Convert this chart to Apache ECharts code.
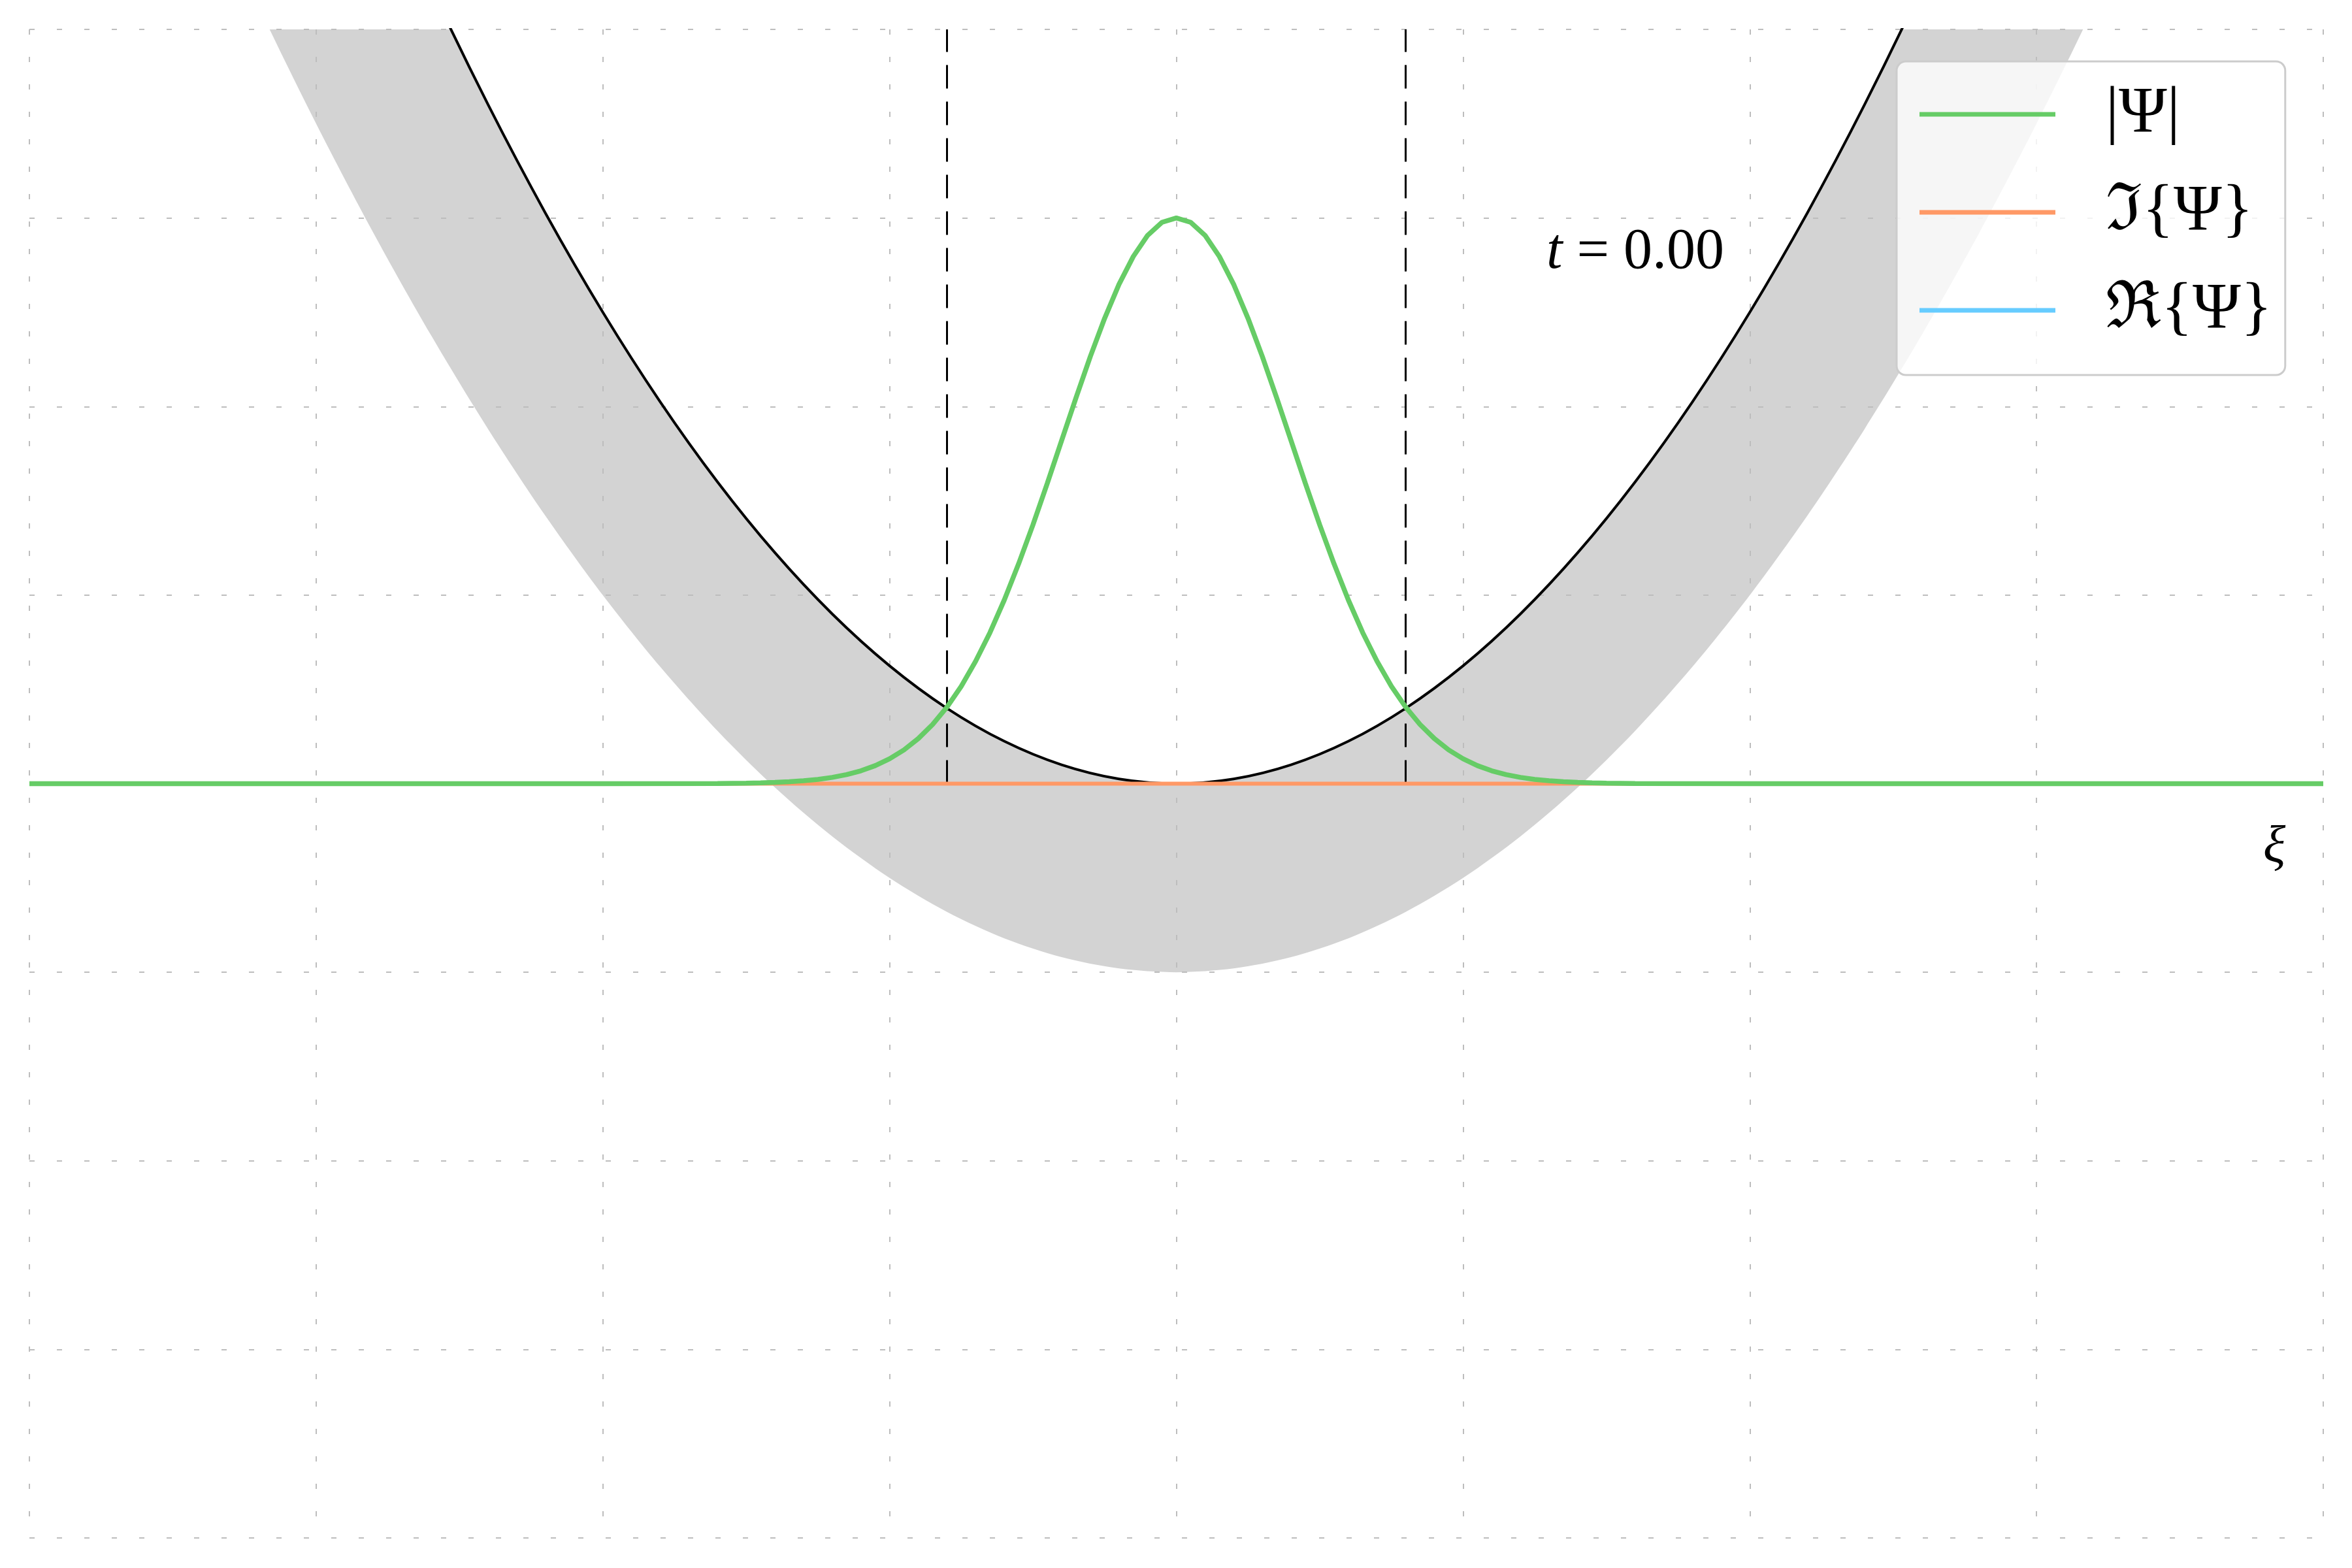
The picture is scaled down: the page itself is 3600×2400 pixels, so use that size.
<!DOCTYPE html>
<html>
<head>
<meta charset="utf-8">
<script src="https://cdn.jsdelivr.net/npm/echarts@6/dist/echarts.min.js"></script>
<style>html,body{margin:0;padding:0;background:#fff}#c{width:3600px;height:2400px}</style>
</head>
<body>
<div id="c"></div>
<script>
// ---- data (x in grid units, y in grid units) ----
const xs = [-4,-3.8,-3.6,-3.4,-3.2,-3,-2.8,-2.6,-2.4,-2.2,-2,-1.8,-1.6,-1.4,-1.2,-1,-0.8,-0.6,-0.4,-0.2,0,0.2,0.4,0.6,0.8,1,1.2,1.4,1.6,1.8,2,2.2,2.4,2.6,2.8,3,3.2,3.4,3.6,3.8,4];
const potential = [10,9.025,8.1,7.225,6.4,5.625,4.9,4.225,3.6,3.025,2.5,2.025,1.6,1.225,0.9,0.625,0.4,0.225,0.1,0.025,0,0.025,0.1,0.225,0.4,0.625,0.9,1.225,1.6,2.025,2.5,3.025,3.6,4.225,4.9,5.625,6.4,7.225,8.1,9.025,10];
const bandLower = [7,6.22,5.48,4.78,4.12,3.5,2.92,2.38,1.88,1.42,1,0.62,0.28,-0.02,-0.28,-0.5,-0.68,-0.82,-0.92,-0.98,-1,-0.98,-0.92,-0.82,-0.68,-0.5,-0.28,-0.02,0.28,0.62,1,1.42,1.88,2.38,2.92,3.5,4.12,4.78,5.48,6.22,7];

const psiX = [-4,-3,-2,-1.6,-1.5,-1.45,-1.4,-1.35,-1.3,-1.25,-1.2,-1.15,-1.1,-1.05,-1,-0.95,-0.9,-0.85,-0.8,-0.75,-0.7,-0.65,-0.6,-0.55,-0.5,-0.45,-0.4,-0.35,-0.3,-0.25,-0.2,-0.15,-0.1,-0.05,0,0.05,0.1,0.15,0.2,0.25,0.3,0.35,0.4,0.45,0.5,0.55,0.6,0.65,0.7,0.75,0.8,0.85,0.9,0.95,1,1.05,1.1,1.15,1.2,1.25,1.3,1.35,1.4,1.45,1.5,1.6,2,3,4];
const psiAbs = [0,0,0,0.001,0.0026,0.0042,0.0066,0.0101,0.0153,0.0227,0.0333,0.0481,0.0684,0.0957,0.132,0.179,0.239,0.314,0.406,0.517,0.649,0.801,0.974,1.166,1.373,1.593,1.82,2.046,2.265,2.468,2.648,2.796,2.908,2.977,3,2.977,2.908,2.796,2.648,2.468,2.265,2.046,1.82,1.593,1.373,1.166,0.974,0.801,0.649,0.517,0.406,0.314,0.239,0.179,0.132,0.0957,0.0684,0.0481,0.0333,0.0227,0.0153,0.0101,0.0066,0.0042,0.0026,0.001,0,0,0];
const psiReal = [0,0,0,0.001,0.0026,0.0042,0.0066,0.0101,0.0153,0.0227,0.0333,0.0481,0.0684,0.0957,0.132,0.179,0.239,0.314,0.406,0.517,0.649,0.801,0.974,1.166,1.373,1.593,1.82,2.046,2.265,2.468,2.648,2.796,2.908,2.977,3,2.977,2.908,2.796,2.648,2.468,2.265,2.046,1.82,1.593,1.373,1.166,0.974,0.801,0.649,0.517,0.406,0.314,0.239,0.179,0.132,0.0957,0.0684,0.0481,0.0333,0.0227,0.0153,0.0101,0.0066,0.0042,0.0026,0.001,0,0,0];
const psiImag = [0,0,0,0,0,0,0,0,0,0,0,0,0,0,0,0,0,0,0,0,0,0,0,0,0,0,0,0,0,0,0,0,0,0,0,0,0,0,0,0,0,0,0,0,0,0,0,0,0,0,0,0,0,0,0,0,0,0,0,0,0,0,0,0,0,0,0,0,0];
const turningPoints = [-0.8, 0.8];
const seriesNames = ['|Ψ|', 'ℑ{Ψ}', 'ℜ{Ψ}'];
const timeLabel = '0.00';
const axisLabelText = 'ξ';

const SERIF = '"Liberation Serif", "DejaVu Serif", serif';
const pairs = (x, y) => x.map((v, i) => [v, y[i]]);

const chart = echarts.init(document.getElementById('c'), null, {renderer: 'canvas'});
const gridLine = {show: true, lineStyle: {color: '#bdbdbd', width: 2, type: [8, 34]}};

function renderBand(params, api) {
  if (params.dataIndex !== 0) return null;
  const pts = [];
  for (let i = 0; i < xs.length; i++) pts.push(api.coord([xs[i], potential[i]]));
  for (let i = xs.length - 1; i >= 0; i--) pts.push(api.coord([xs[i], bandLower[i]]));
  return {type: 'polygon', shape: {points: pts, smooth: 0.3}, style: {fill: '#d3d3d3', stroke: null}, silent: true};
}

const option = {
  animation: false,
  backgroundColor: '#ffffff',
  grid: {left: 45, right: 44, top: 45, bottom: 46},
  xAxis: {type: 'value', min: -4, max: 4, interval: 1, z: 2,
    axisLine: {show: false}, axisTick: {show: false}, axisLabel: {show: false}, splitLine: gridLine},
  yAxis: {type: 'value', min: -4, max: 4, interval: 1, z: 2,
    axisLine: {show: false}, axisTick: {show: false}, axisLabel: {show: false}, splitLine: gridLine},
  legend: {
    orient: 'vertical', left: 2903, top: 94, z: 10,
    padding: [31, 20, 49, 35], itemGap: 50, itemWidth: 208, itemHeight: 7, icon: 'rect',
    backgroundColor: 'rgba(255,255,255,0.8)', borderColor: '#cccccc', borderWidth: 3, borderRadius: 14,
    selectedMode: false,
    textStyle: {fontFamily: SERIF, fontSize: 100, lineHeight: 100, color: '#000', width: 250, padding: [0, 0, 0, 72]},
    data: seriesNames
  },
  graphic: [
    {type: 'text', left: 2367, top: 343, z: 10,
      style: {text: '{i|t} = ' + timeLabel, font: '88px ' + SERIF, fill: '#000',
        rich: {i: {fontFamily: SERIF, fontStyle: 'italic', fontSize: 88, fill: '#000'}}}},
    {type: 'text', left: 3464, top: 1258, z: 10,
      style: {text: axisLabelText, font: 'italic 80px ' + SERIF, fill: '#000'}}
  ],
  series: [
    {name: 'band', type: 'custom', z: 1, clip: true, silent: true,
      renderItem: renderBand, data: pairs(xs, potential)},
    {name: 'V', type: 'line', z: 3, symbol: 'none', smooth: 0.3,
      lineStyle: {color: '#000', width: 4}, data: pairs(xs, potential), silent: true},
    {name: 'turning', type: 'line', z: 4, symbol: 'none', data: [],
      markLine: {symbol: 'none', silent: true, label: {show: false},
        lineStyle: {color: '#000', width: 3, type: [36, 20]},
        data: turningPoints.map(x => [{coord: [x, 0]}, {coord: [x, 4]}])}},
    {name: seriesNames[2], type: 'line', z: 5, symbol: 'none',
      itemStyle: {color: '#66ccff'}, lineStyle: {color: '#66ccff', width: 6}, data: pairs(psiX, psiReal)},
    {name: seriesNames[1], type: 'line', z: 6, symbol: 'none',
      itemStyle: {color: '#ff9966'}, lineStyle: {color: '#ff9966', width: 6}, data: pairs(psiX, psiImag)},
    {name: seriesNames[0], type: 'line', z: 7, symbol: 'none',
      itemStyle: {color: '#66cc66'}, lineStyle: {color: '#66cc66', width: 7.5}, data: pairs(psiX, psiAbs)}
  ]
};
chart.setOption(option);
</script>
</body>
</html>
